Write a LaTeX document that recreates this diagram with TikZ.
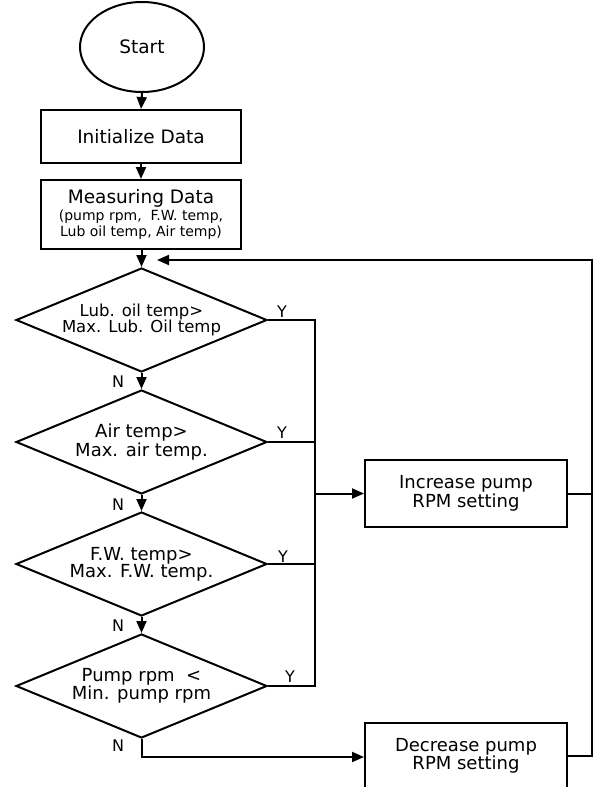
\documentclass[tikz,border=0pt]{standalone}
\usepackage{fontspec}
\setmainfont{DejaVu Sans}
\usetikzlibrary{shapes.geometric,arrows.meta}
\begin{document}
\begin{tikzpicture}[x=1pt,y=-1pt,
  line/.style={line width=2pt},
  arr/.style={line, -{Triangle[length=12pt,width=10pt]}},
  box/.style={draw, line width=2pt, rectangle, align=center, inner sep=0pt, minimum width=200pt, font=\fontsize{18.5}{18}\selectfont},
  dec/.style={draw, line width=2pt, diamond, shape aspect=2.41, align=center, inner sep=0pt, minimum width=251pt, minimum height=104pt, font=\fontsize{18}{17}\selectfont},
  lab/.style={font=\fontsize{16}{16}\selectfont, inner sep=0pt}]
\useasboundingbox (0,0) rectangle (593,787);
\clip (0,0) rectangle (593,787);
\node[draw, line width=2pt, ellipse, minimum width=124pt, minimum height=90pt, inner sep=0pt, font=\fontsize{18.5}{18}\selectfont] (start) at (142,47) {Start};
\node[box, minimum height=53pt] (init) at (141,136.5) {Initialize Data};
\node[box, minimum height=69pt] (meas) at (141,214.5) {Measuring Data\\[-1pt]{\fontsize{14}{15}\selectfont (pump rpm,\ \ F.W. temp,}\\[-2pt]{\fontsize{14}{15}\selectfont Lub oil temp, Air temp)}};
\node[dec, font=\fontsize{16.5}{16}\selectfont] (d1) at (141.5,320) {Lub. oil temp>\\Max. Lub. Oil temp};
\node[dec] (d2) at (141.5,442) {Air temp>\\Max. air temp.};
\node[dec] (d3) at (141.5,564) {F.W. temp>\\Max. F.W. temp.};
\node[dec] (d4) at (141.5,686) {Pump rpm \ <\\Min. pump rpm};
\node[box, minimum width=202pt, minimum height=67pt, font=\fontsize{18}{17}\selectfont] (inc) at (466,493.5) {Increase pump\\RPM setting};
\node[box, minimum width=202pt, minimum height=67pt, font=\fontsize{18}{17}\selectfont] (decr) at (466,756) {Decrease pump\\RPM setting};
% labels
\node[lab] (y1) at (282,312) {Y};
\node[lab] (y2) at (282,433) {Y};
\node[lab] (y3) at (283,557) {Y};
\node[lab] (y4) at (290,677) {Y};
\node[lab] (n1) at (118,382) {N};
\node[lab] (n2) at (118,505) {N};
\node[lab] (n3) at (118,626) {N};
\node[lab] (n4) at (118,746) {N};
% coordinates
\coordinate (bt) at (315,320);
\coordinate (bb) at (315,686);
\coordinate (R) at (592,260);
\coordinate (fb) at (157,260);
\coordinate (nb) at (141.5,757);
% connectors
\draw[arr] (start.south) -- (init.north);
\draw[arr] (init.south) -- (meas.north);
\draw[arr] (meas.south -| d1.north) -- (d1.north);
\draw[arr] (d1.south) -- (d2.north);
\draw[arr] (d2.south) -- (d3.north);
\draw[arr] (d3.south) -- (d4.north);
\draw[line] (d1.east) -- (bt) -- (bb) -- (d4.east);
\draw[line] (d2.east) -- (d2.east -| bt);
\draw[line] (d3.east) -- (d3.east -| bt);
\draw[arr] (inc.west -| bt) -- (inc.west);
\draw[arr] (d4.south) -- (nb) -- (nb -| decr.west);
\draw[line] (inc.east) -- (inc.east -| R);
\draw[arr] (decr.east) -| (R) -- (fb);
\end{tikzpicture}
\end{document}
